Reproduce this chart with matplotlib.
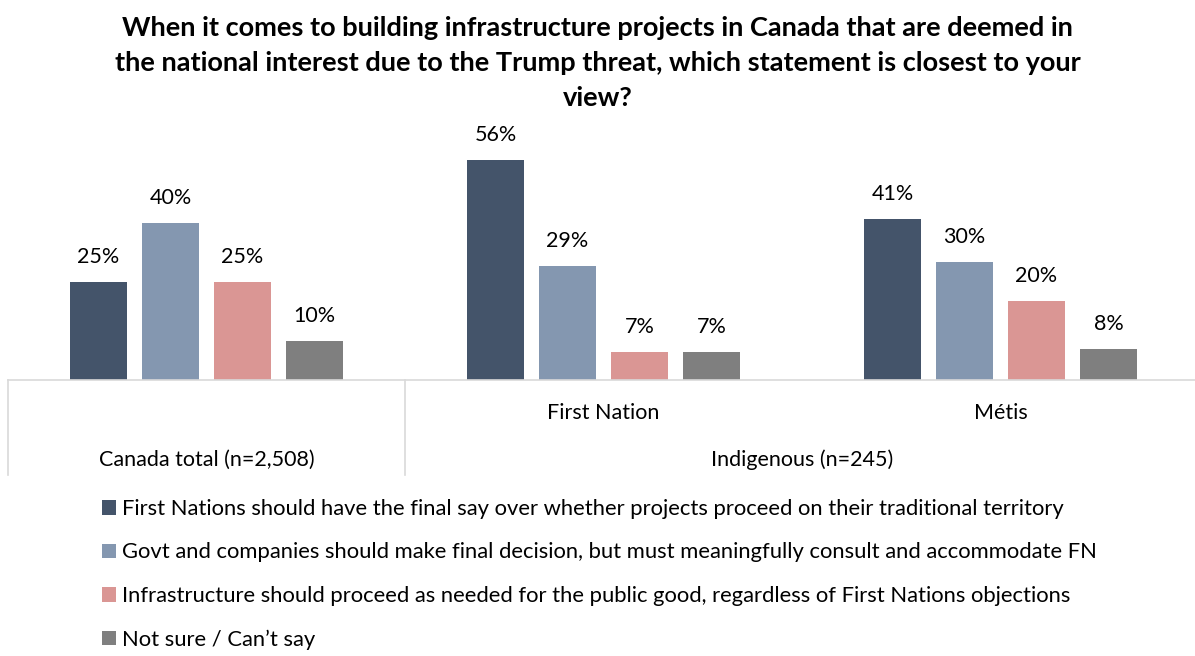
import matplotlib

matplotlib.use("Agg")
import matplotlib.pyplot as plt
import numpy as np
from matplotlib.transforms import blended_transform_factory

plt.rcParams["font.family"] = ["Lato", "DejaVu Sans"]

TITLE = ("When it comes to building infrastructure projects in Canada that are deemed in\n"
         "the national interest due to the Trump threat, which statement is closest to your\n"
         "view?")

groups = ["Canada total (n=2,508)", "First Nation", "Métis"]
sub_labels = ["", "First Nation", "Métis"]
top_labels = ["Canada total (n=2,508)", "Indigenous (n=245)"]

series = [
    "First Nations should have the final say over whether projects proceed on their traditional territory",
    "Govt and companies should make final decision, but must meaningfully consult and accommodate FN",
    "Infrastructure should proceed as needed for the public good, regardless of First Nations objections",
    "Not sure / Can\u2019t say",
]
fn_final_say = [25, 56, 41]
govt_consult = [40, 29, 30]
proceed_anyway = [25, 7, 20]
not_sure = [10, 7, 8]
values = [fn_final_say, govt_consult, proceed_anyway, not_sure]
colors = ["#44546A", "#8497B0", "#DA9694", "#7F7F7F"]

FS = 15.5
W, H = 1195, 656
fig = plt.figure(figsize=(W / 100, H / 100), dpi=100)
ax = fig.add_axes([8 / W, 276 / H, 1191 / W, 240 / H])

x = np.arange(len(groups))
step, width = 0.1814, 0.1436
for i, (name, vals, c) in enumerate(zip(series, values, colors)):
    pos = x + (i - 1.5) * step
    bars = ax.bar(pos, vals, width, color=c, label=name)
    for b, v in zip(bars, vals):
        ax.annotate(f"{v}%", (b.get_x() + b.get_width() / 2, v),
                    xytext=(0, 18), textcoords="offset points",
                    ha="center", va="center", fontsize=FS, color="#000000")

ax.set_xlim(-0.5, 2.5)
ax.set_ylim(0, 61)
ax.set_xticks([])
ax.set_yticks([])
for s in ("top", "left", "right"):
    ax.spines[s].set_visible(False)
ax.spines["bottom"].set_color("#D9D9D9")
ax.spines["bottom"].set_linewidth(1.2)

# two-level category axis
tr = blended_transform_factory(ax.transData, ax.transAxes)
for xv in (-0.5, 0.5, 2.5):
    ax.plot([xv, xv], [0, -0.396], transform=tr, color="#D9D9D9",
            lw=1.2, clip_on=False)
for xv, lab in zip(x, sub_labels):
    if lab:
        ax.text(xv, -0.138, lab, transform=tr, ha="center", va="center",
                fontsize=FS)
ax.text(0, -0.333, top_labels[0], transform=tr, ha="center", va="center",
        fontsize=FS)
ax.text(1.5, -0.333, top_labels[1], transform=tr, ha="center", va="center",
        fontsize=FS)

fig.text(0.5, 1 - 63 / H, TITLE, ha="center", va="center", fontsize=19.5,
         fontweight="bold", linespacing=1.55)

ax.legend(loc="upper left", bbox_to_anchor=(102 / W, 1 - 499 / H),
          bbox_transform=fig.transFigure, frameon=False, fontsize=15.8,
          handlelength=0.64, handleheight=0.64, handletextpad=0.28,
          labelspacing=1.07, borderpad=0, borderaxespad=0)

fig.savefig("out.png", dpi=100)
